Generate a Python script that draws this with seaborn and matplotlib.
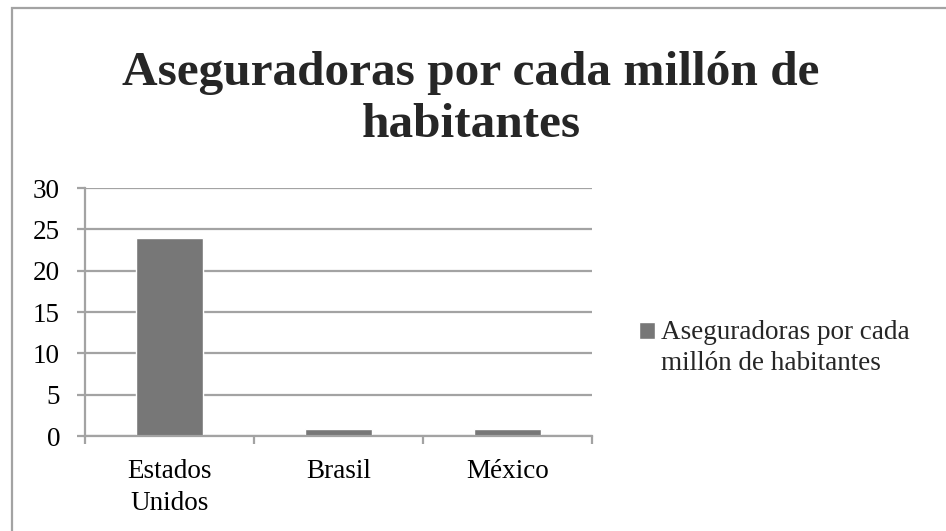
import matplotlib
matplotlib.use("Agg")
import matplotlib.pyplot as plt
import seaborn as sns
from matplotlib.patches import Rectangle
from matplotlib.container import BarContainer
from matplotlib.legend_handler import HandlerPatch

# Data
paises = ["Estados\nUnidos", "Brasil", "México"]
aseguradoras = [24, 0.9, 0.8]
serie = "Aseguradoras por cada\nmillón de habitantes"
y_ticks = [0, 5, 10, 15, 20, 25, 30]

sns.set_theme(style="white")
plt.rcParams["font.family"] = ["Liberation Serif", "DejaVu Serif"]

gris_barra = "#777777"
gris_linea = "#a3a3a3"
fs = 19.5

fig = plt.figure(figsize=(9.46, 5.31), dpi=100)
ax = fig.add_axes([85 / 946, 1 - 436 / 531, (592 - 85) / 946, (436 - 188) / 531])

sns.barplot(x=paises, y=aseguradoras, color=gris_barra, width=0.4,
            saturation=1, label=serie, ax=ax)

ax.set_ylim(0, 30)
ax.set_xlim(-0.5, 2.5)
ax.set_yticks(y_ticks)
ax.yaxis.grid(True, color=gris_linea, linewidth=1.6)
ax.set_axisbelow(True)

for s in ["top", "right"]:
    ax.spines[s].set_visible(False)
for s in ["left", "bottom"]:
    ax.spines[s].set_color(gris_linea)
    ax.spines[s].set_linewidth(1.6)

ax.tick_params(axis="y", length=6, width=1.6, color=gris_linea, pad=12,
               labelsize=fs, labelcolor="black", left=True)
ax.tick_params(axis="x", which="major", length=0, pad=16.5,
               labelsize=fs, labelcolor="black")
ax.set_xticks([-0.5, 0.5, 1.5, 2.5], minor=True)
ax.tick_params(axis="x", which="minor", length=6, width=1.6,
               color=gris_linea, bottom=True)
for lbl in ax.get_xticklabels():
    lbl.set_linespacing(1.35)

fig.text(0.498, 1 - 137 / 531, "Aseguradoras por cada millón de\nhabitantes",
         ha="center", va="baseline", fontsize=35.5, fontweight="bold",
         linespacing=1.24, multialignment="center")


# legend square sits next to the first line of the label
def cuadro_arriba(legend, orig_handle, xdescent, ydescent, width, height, fontsize):
    return Rectangle((-xdescent, -ydescent + 12.5), width, height)


def copiar_estilo(legend_handle, orig_handle):
    src = orig_handle[0] if isinstance(orig_handle, BarContainer) else orig_handle
    legend_handle.update_from(src)


manejador = HandlerPatch(patch_func=cuadro_arriba, update_func=copiar_estilo)
leg = ax.legend(loc="center left", bbox_to_anchor=(615 / 946, 1 - 348 / 531),
                bbox_transform=fig.transFigure, frameon=False, fontsize=fs,
                handlelength=0.58, handleheight=0.58, handletextpad=0.2,
                handler_map={BarContainer: manejador, Rectangle: manejador})
for t in leg.get_texts():
    t.set_linespacing(1.27)

# Chart border (Excel-style frame, partly cut off)
fig.patches.append(Rectangle((12 / 946, -0.1), 1.2, 1 - 8 / 531 + 0.1,
                             transform=fig.transFigure, fill=False,
                             edgecolor=gris_linea, linewidth=1.6))

fig.savefig("out.png", dpi=100)
